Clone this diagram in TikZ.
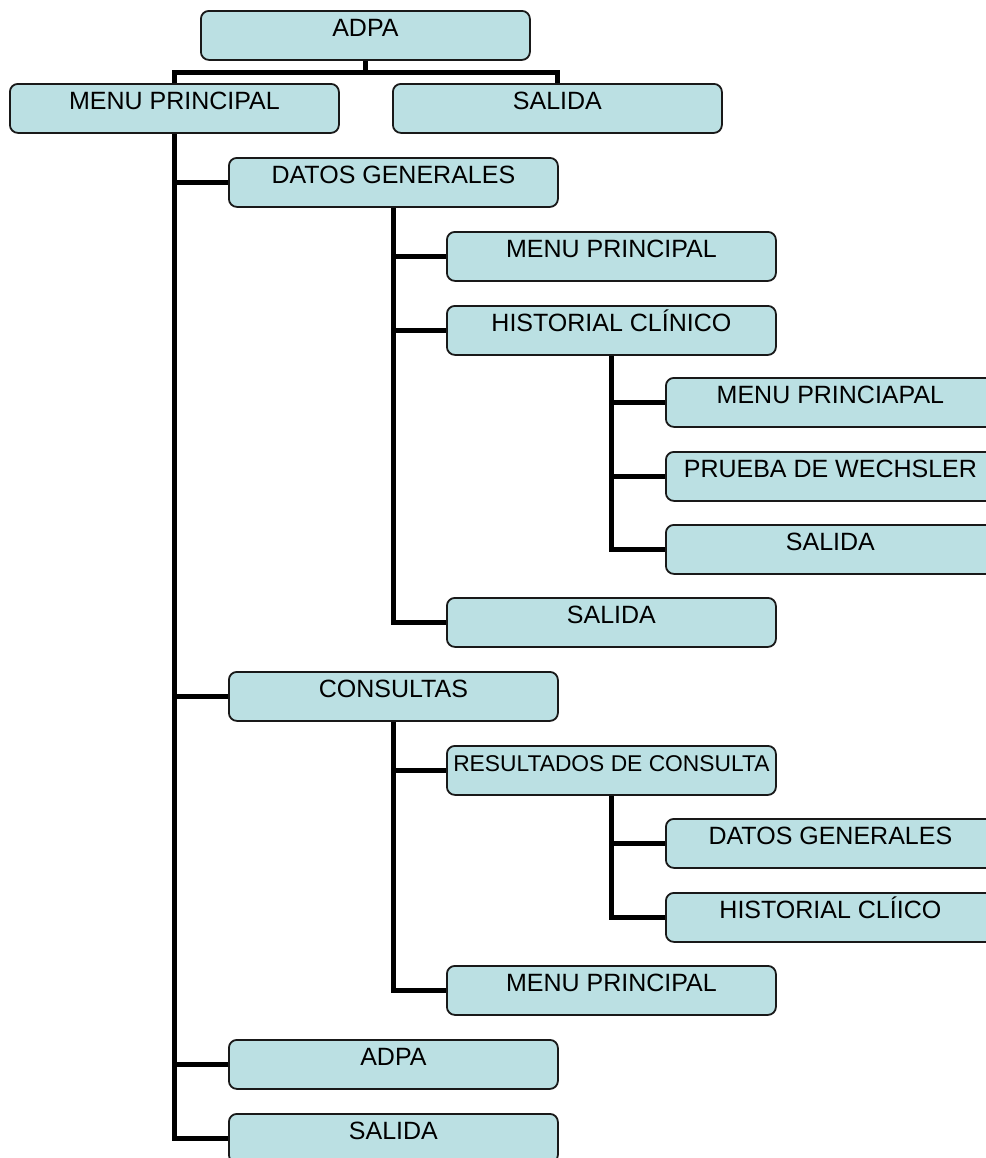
\documentclass[tikz,border=0pt]{standalone}
\usepackage{fontspec}
\setmainfont{Liberation Sans}
\usetikzlibrary{backgrounds}
\definecolor{boxfill}{RGB}{187,224,227}
\definecolor{boxline}{RGB}{25,25,25}
\tikzset{
  menubox/.style={draw=boxline, line width=0.9pt, fill=boxfill, rounded corners=4pt,
    anchor=north west, minimum width=164.5pt, minimum height=24.5pt, inner sep=0pt,
    text height=13pt, text depth=11.5pt, font=\fontsize{12.5pt}{15pt}\selectfont},
  conn/.style={line width=2.6pt, black}
}
\begin{document}
\begin{tikzpicture}[x=0.5pt, y=-0.5pt]
\useasboundingbox (0,0) rectangle (986,1158);
\clip (0,0) rectangle (986,1158);
% level 0
\node[menubox] (adpa) at (200,10) {ADPA};
\node[menubox] (mp) at (9,83) {MENU PRINCIPAL};
\node[menubox] (sal0) at (392,83) {SALIDA};
% level 1
\node[menubox] (dg) at (228,157) {DATOS GENERALES};
\node[menubox] (cons) at (228,671) {CONSULTAS};
\node[menubox] (adpa2) at (228,1039) {ADPA};
\node[menubox] (sal1) at (228,1113) {SALIDA};
% level 2
\node[menubox] (mp2) at (446,231) {MENU PRINCIPAL};
\node[menubox] (hc) at (446,305) {HISTORIAL CLÍNICO};
\node[menubox] (sal2) at (446,597) {SALIDA};
\node[menubox, font=\fontsize{11.4pt}{14pt}\selectfont] (res) at (446,745) {RESULTADOS DE CONSULTA};
\node[menubox] (mp3) at (446,965) {MENU PRINCIPAL};
% level 3
\node[menubox] (mpa) at (665,377) {MENU PRINCIAPAL};
\node[menubox] (pw) at (665,451) {PRUEBA DE WECHSLER};
\node[menubox] (sal3) at (665,524) {SALIDA};
\node[menubox] (dg2) at (665,818) {DATOS GENERALES};
\node[menubox] (hc2) at (665,892) {HISTORIAL CLÍICO};
\begin{scope}[on background layer]
  \draw[conn] (adpa.south) -- ++(0,12) -| (mp.north);
  \draw[conn] (adpa.south) -- ++(0,12) -| (sal0.north);
  \foreach \c in {dg,cons,adpa2,sal1} \draw[conn] (mp.south) |- (\c.west);
  \foreach \c in {mp2,hc,sal2} \draw[conn] (dg.south) |- (\c.west);
  \foreach \c in {res,mp3} \draw[conn] (cons.south) |- (\c.west);
  \foreach \c in {mpa,pw,sal3} \draw[conn] (hc.south) |- (\c.west);
  \foreach \c in {dg2,hc2} \draw[conn] (res.south) |- (\c.west);
\end{scope}
\end{tikzpicture}
\end{document}
